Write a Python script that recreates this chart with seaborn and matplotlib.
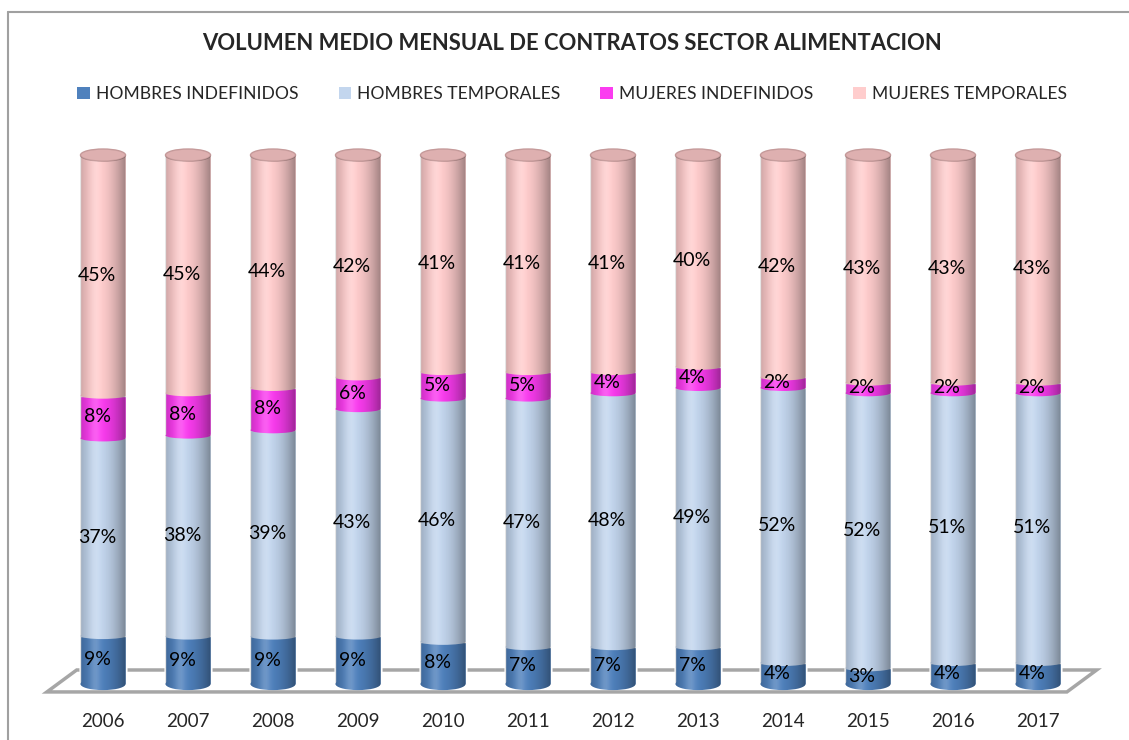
import numpy as np
import pandas as pd
import matplotlib
matplotlib.use('Agg')
import matplotlib.pyplot as plt
import seaborn as sns
from matplotlib.patches import Ellipse, Polygon, Patch
from matplotlib.lines import Line2D

# Data (percent of monthly contracts)
years = ['2006', '2007', '2008', '2009', '2010', '2011',
         '2012', '2013', '2014', '2015', '2016', '2017']
hombres_indefinidos = [9, 9, 9, 9, 8, 7, 7, 7, 4, 3, 4, 4]
hombres_temporales = [37, 38, 39, 43, 46, 47, 48, 49, 52, 52, 51, 51]
mujeres_indefinidos = [8, 8, 8, 6, 5, 5, 4, 4, 2, 2, 2, 2]
mujeres_temporales = [45, 45, 44, 42, 41, 41, 41, 40, 42, 43, 43, 43]

series = ['HOMBRES INDEFINIDOS', 'HOMBRES TEMPORALES',
          'MUJERES INDEFINIDOS', 'MUJERES TEMPORALES']
colors = ['#4f81bd', '#c3d6ee', '#fb3cf0', '#ffcdcd']

df = pd.DataFrame({
    'year': years,
    series[0]: hombres_indefinidos,
    series[1]: hombres_temporales,
    series[2]: mujeres_indefinidos,
    series[3]: mujeres_temporales,
})

# 100% stacked
share = df[series].div(df[series].sum(axis=1), axis=0) * 100
cum = share.cumsum(axis=1)
base = cum - share

sns.set_style('white')
plt.rcParams['font.family'] = ['Lato', 'DejaVu Sans']

W, H = 1129, 740
fig = plt.figure(figsize=(W / 100, H / 100), dpi=100)
ax = fig.add_axes([30 / W, 1 - 704 / H, 1080 / W, 569 / H])

bar_w = 0.53
cap_h = 2.3    # top / bottom ellipse height
seam_h = 1.2   # flatter curve between stacked segments

# floor of the 3D plot
floor = Polygon([(-0.66, -1.5), (11.34, -1.5), (11.69, 2.65), (-0.31, 2.65)],
                closed=True, fc='white', ec='#a6a6a6', lw=2.5, zorder=0.5)
ax.add_patch(floor)

# stacked bars, drawn from the tallest cumulative total down
plot_df = pd.concat([df[['year']], cum], axis=1)
for name, col in reversed(list(zip(series, colors))):
    sns.barplot(data=plot_df, x='year', y=name, color=col, width=bar_w,
                saturation=1, ax=ax, zorder=2)

# cylinder look: curved boundaries + top cap
for i in range(len(years)):
    for j, (name, col) in enumerate(zip(series, colors)):
        h = cap_h if j == 0 else seam_h
        ax.add_patch(Ellipse((i, base.loc[i, name]), bar_w, h,
                             fc=col, ec='none', zorder=2.1 + j * 0.01))
    ax.add_patch(Ellipse((i, cum.loc[i, series[-1]]), bar_w, cap_h,
                         fc='#deb0b0', ec='#c59a9a', lw=1, zorder=2.2))

# horizontal shading clipped to each cylinder outline
t = np.linspace(0, 1, 256)
alpha = np.where(t > 0.38, 0.38 * ((t - 0.38) / 0.62) ** 1.8,
                 0.2 * ((0.38 - t) / 0.38) ** 1.5)
shade = np.zeros((1, 256, 4))
shade[..., 3] = alpha
hl = np.ones((1, 256, 4))
hl[..., 3] = 0.18 * np.exp(-((t - 0.33) / 0.12) ** 2)
ang = np.linspace(np.pi, 2 * np.pi, 40)
for i in range(len(years)):
    top = cum.loc[i, series[-1]]
    x0, x1 = i - bar_w / 2, i + bar_w / 2
    bottom = np.column_stack([i + bar_w / 2 * np.cos(ang), cap_h / 2 * np.sin(ang)])
    upper = np.column_stack([i + bar_w / 2 * np.cos(ang[::-1] - np.pi),
                             top - cap_h / 2 * np.sin(ang[::-1] - np.pi)])
    outline = np.vstack([[[x0, top]], bottom, [[x1, top]], upper[::-1]])
    clip = Polygon(outline, closed=True, transform=ax.transData)
    for img in (shade, hl):
        im = ax.imshow(img, extent=[x0, x1, -cap_h, top + cap_h],
                       aspect='auto', zorder=2.5, interpolation='bilinear')
        im.set_clip_path(clip)

# percentage labels
for i in range(len(years)):
    for name in series:
        ax.text(i - 0.07, base.loc[i, name] + share.loc[i, name] / 2,
                f'{df.loc[i, name]}%', ha='center', va='center',
                fontsize=14, color='black', zorder=4)

ax.set_xlim(-0.859, 11.847)
ax.set_ylim(-3.78, 103.8)
ax.set_xlabel('')
ax.set_ylabel('')
ax.set_yticks([])
ax.set_xticks(range(len(years)))
ax.set_xticklabels(years, fontsize=13.5)
ax.tick_params(axis='x', length=0, pad=6.5)
for s in ax.spines.values():
    s.set_visible(False)
ax.patch.set_alpha(0)

fig.text(572 / W, 1 - 43 / H,
         'VOLUMEN MEDIO MENSUAL DE CONTRATOS SECTOR ALIMENTACION',
         ha='center', va='center', fontsize=15.8, fontweight='bold')

handles = [Patch(fc=c, ec='none') for c in colors]
fig.legend(handles, series, loc='center', bbox_to_anchor=(572 / W, 1 - 94 / H),
           ncol=4, frameon=False, fontsize=12.6, handlelength=0.7,
           handleheight=0.7, handletextpad=0.35, columnspacing=2.3)

# chart border (only left and top visible in the crop)
fig.add_artist(Line2D([8 / W, 8 / W], [0, 1 - 12 / H], color='#a0a0a0', lw=1.5))
fig.add_artist(Line2D([8 / W, 1], [1 - 12 / H, 1 - 12 / H], color='#a0a0a0', lw=1.5))

fig.savefig('out.png', dpi=100)
